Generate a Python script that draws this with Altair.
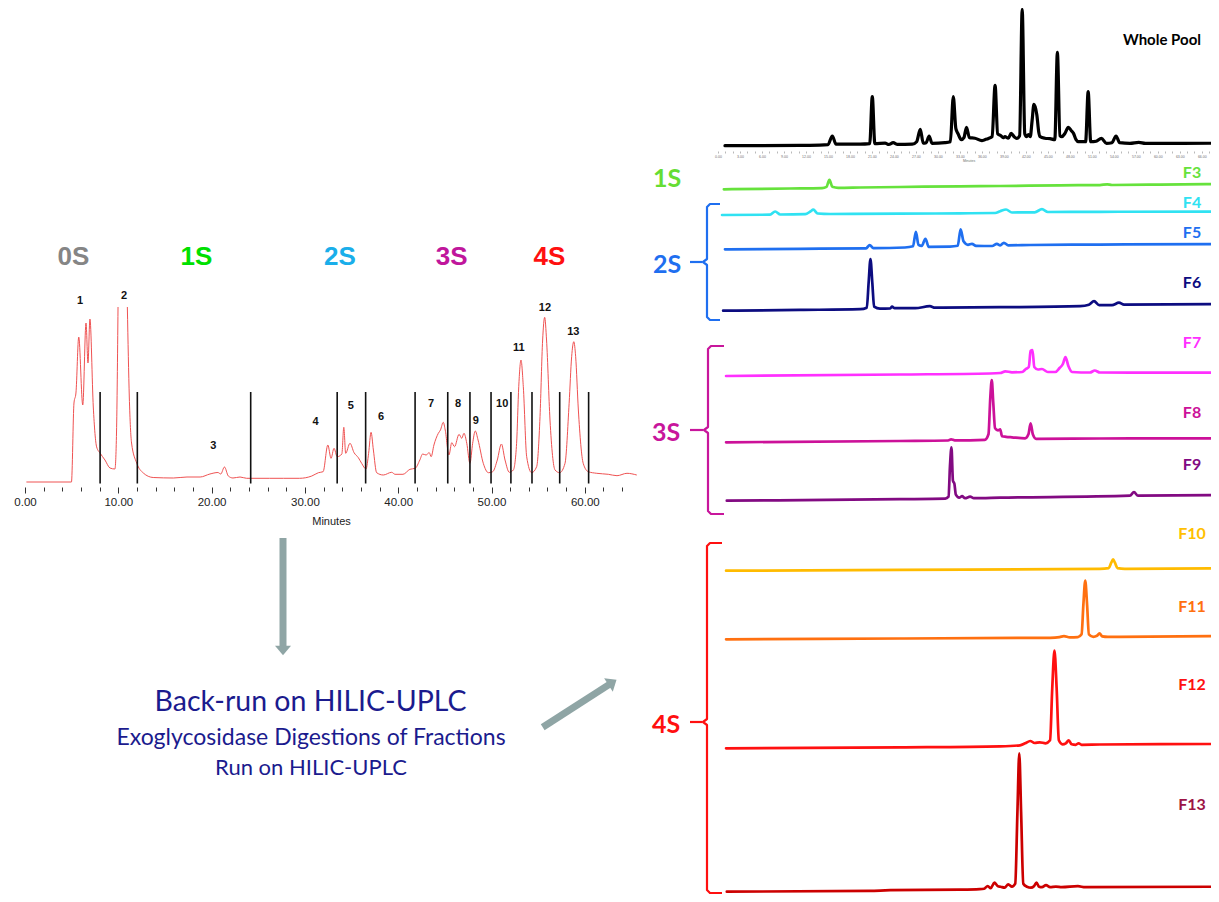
import altair as alt
import pandas as pd

W, H, M = 1203, 886, 8  # canvas size (page minus 8px body margin)


def P(v):
    """page pixel -> canvas pixel"""
    return v - M


# ======================= DATA =======================
# Left: fractionation chromatogram (minutes, intensity); None = off-scale top of peak 2
main_trace = [
    (0.15, 0), (4.98, 0), (5.25, 79), (5.46, 89), (5.76, 145), (6.19, 77), (6.54, 159), (6.75, 119),
    (6.96, 163), (7.32, 75), (7.68, 35), (8.04, 29), (8.57, 22), (9.11, 14), (9.64, 13), (9.81, 50),
    (9.97, 175), (10.47, None), (10.97, 175), (11.18, 85), (11.42, 39), (11.97, 19), (12.68, 9),
    (13.74, 4.5), (15.9, 4), (17.36, 5), (18.77, 5), (19.82, 8), (20.68, 9.5), (20.98, 8), (21.38, 15),
    (21.79, 6), (22.29, 4), (23.05, 5), (23.75, 3.7), (26.22, 3.7), (27.69, 3.7), (29.44, 3.7),
    (30.74, 6), (31.45, 9.3), (31.95, 10.3), (32.46, 37), (32.8, 23.7), (33.12, 33.7), (33.46, 25.3),
    (33.96, 28), (34.17, 54.7), (34.37, 28.7), (34.83, 38.7), (35.27, 29.3), (35.73, 24.3),
    (36.08, 18.7), (36.55, 13), (36.83, 28.7), (37.09, 49.7), (37.34, 32), (37.69, 9.3), (38.4, 7),
    (39.3, 9.7), (39.66, 7.7), (40.51, 7.7), (41.26, 12.7), (41.82, 13.7), (42.32, 22), (42.62, 28),
    (42.98, 27), (43.33, 29.3), (43.53, 25.3), (43.83, 37), (44.3, 48.7), (44.53, 52), (44.83, 59.7),
    (45.04, 52), (45.44, 27), (45.74, 39.3), (46.04, 35.3), (46.52, 47.7), (46.81, 43.7), (47.05, 48.7),
    (47.35, 38.7), (47.69, 18.7), (47.98, 38.7), (48.26, 51), (48.56, 42), (49.12, 18.7), (49.67, 9.3),
    (50.13, 10.3), (50.62, 22), (51.06, 38), (51.45, 22), (51.91, 9.7), (52.34, 12), (52.69, 38.7),
    (52.92, 95.3), (53.16, 122), (53.41, 95.3), (53.77, 25.3), (54.3, 9.3), (54.84, 15.3), (55.2, 65.3),
    (55.48, 142), (55.7, 164.7), (55.9, 142), (56.27, 62), (56.81, 12), (57.31, 9.3), (57.88, 18.7),
    (58.32, 78.7), (58.59, 125.3), (58.82, 140.3), (59.02, 125.3), (59.31, 72), (59.83, 18.7),
    (60.37, 10.3), (61.28, 8.7), (62.52, 7.7), (63.45, 6.3), (64.52, 8.7), (65.57, 7),
]
cut_minutes = [8.05, 12.04, 24.19, 33.46, 36.51, 41.81, 45.31, 47.69, 49.95, 52.08, 54.34, 57.31, 60.41]
peak_ids = ["1", "2", "3", "4", "5", "6", "7", "8", "9", "10", "11", "12", "13"]
peak_label_min = [5.9, 10.62, 20.18, 31.15, 34.91, 38.16, 43.53, 46.41, 48.31, 51.15, 52.92, 55.73, 58.77]
peak_label_int = [181, 186, 36, 60, 76, 65, 78, 78, 61, 78, 134, 174, 150]
group_names = ["0S", "1S", "2S", "3S", "4S"]
group_min = [5.18, 18.37, 33.76, 45.74, 56.21]

# Right: back-run traces (minutes, intensity above start baseline)
fractions = ["Whole Pool", "F3", "F4", "F5", "F6", "F7", "F8", "F9", "F10", "F11", "F12", "F13"]
traces = {
    "Whole Pool": [
        (0.95, 0), (11.2, 0.3), (13.9, 0.5), (15.0, 1), (15.6, 9.7), (16.1, 1.5), (19.4, 1.5), (20.7, 2),
        (21.05, 49), (21.4, 2), (22.8, 2.5), (23.3, 1.2), (23.9, 3), (24.5, 1.3), (26.5, 1.5), (27.1, 4),
        (27.6, 16.3), (28.0, 2.5), (28.4, 3), (28.8, 9.7), (29.2, 2.3), (30.95, 3), (31.7, 4), (32.1, 49),
        (32.45, 17), (32.75, 12), (33.2, 6), (33.55, 8), (33.9, 18.3), (34.3, 8), (35.05, 7.5), (36.0, 5),
        (36.4, 6), (36.9, 7.3), (37.4, 9), (37.8, 60.3), (38.15, 12), (38.6, 10), (38.9, 8), (39.15, 9),
        (39.6, 7.5), (40.0, 12.3), (40.4, 9), (40.75, 7.3), (41.15, 10), (41.5, 136.3), (41.85, 12),
        (42.1, 9), (42.35, 11), (42.6, 9), (42.85, 25), (43.1, 41.3), (43.5, 30.7), (43.75, 14),
        (43.95, 9), (44.6, 7.5), (45.3, 7), (45.95, 6), (46.3, 93.3), (46.65, 10), (46.9, 9), (47.3, 12),
        (47.8, 18.3), (48.2, 15), (48.5, 12.3), (48.85, 6), (49.15, 4), (50.15, 4), (50.5, 54),
        (50.85, 4), (51.6, 4.5), (52.3, 7.3), (53.0, 2.3), (53.75, 3), (54.3, 9.7), (54.8, 3),
        (56.2, 2.3), (57.4, 3.3), (58.3, 2.3), (63.0, 2.3), (68.35, 2.5),
    ],
    "F3": [
        (0.8, 0), (9.8, 0.8), (14.2, 1.2), (14.8, 2.5), (15.2, 9.5), (15.6, 2.5), (16.4, 1.5), (19.4, 1.8),
        (24.8, 2.3), (33.0, 3), (38.5, 3.3), (46.7, 4), (52.1, 4.2), (53.1, 5), (53.75, 4.3), (60.3, 4.7),
        (68.35, 5.3),
    ],
    "F4": [
        (0.55, 0), (7.1, 0.3), (7.8, 3.5), (8.5, 0.5), (11.9, 0.8), (12.6, 3.5), (13.0, 5.3), (13.6, 1.5),
        (15.3, 1), (24.8, 1.3), (33.0, 1.7), (37.8, 2), (38.5, 3.8), (39.3, 5.5), (40.1, 2.5), (43.2, 2.7),
        (44.2, 5.8), (45.0, 3), (52.1, 3.2), (68.35, 3.3),
    ],
    "F5": [
        (0.95, 0), (11.2, 0.5), (20.2, 1), (20.7, 4.3), (21.2, 1.2), (25.5, 1.8), (26.6, 3), (27.0, 17.5),
        (27.35, 4.5), (27.8, 3.5), (28.3, 10.5), (28.75, 2.5), (31.65, 2.7), (32.7, 3.5), (33.1, 20),
        (33.5, 8), (34.1, 4.5), (34.65, 5.5), (35.2, 3.5), (37.4, 3.3), (38.05, 5.5), (38.5, 4),
        (39.0, 6.5), (39.6, 4), (42.6, 4.3), (52.1, 4.7), (68.35, 5.3),
    ],
    "F6": [
        (0.7, 0), (11.2, 0.8), (19.4, 1.5), (20.3, 3), (20.55, 28), (20.8, 51.5), (21.05, 28), (21.3, 4),
        (22.1, 2), (23.5, 2.3), (23.75, 4), (24.1, 2.5), (26.9, 2.5), (28.9, 4.5), (29.6, 3), (38.5, 3.5),
        (49.4, 4.5), (50.6, 6), (51.3, 9.5), (52.0, 5.5), (53.75, 5.5), (54.7, 8), (55.4, 6), (68.35, 6.7),
    ],
    "F7": [
        (1.1, 0), (24.8, 1.5), (37.1, 2.5), (38.5, 3), (39.2, 4.7), (40.1, 3.7), (41.5, 4), (42.0, 7),
        (42.4, 9), (42.65, 25), (42.9, 26), (43.15, 9), (43.65, 6.5), (44.2, 7), (45.0, 4), (46.0, 4),
        (46.6, 8), (47.05, 12), (47.4, 19), (47.8, 10), (48.3, 4), (50.75, 3.5), (51.4, 5.5), (52.1, 3.5),
        (68.35, 3.3),
    ],
    "F8": [
        (1.1, 0), (24.8, 1.3), (31.4, 1.8), (31.8, 3), (32.3, 2), (36.4, 2.5), (36.9, 8), (37.15, 45),
        (37.35, 62.3), (37.55, 40), (37.8, 14), (38.2, 12), (38.5, 13), (38.75, 6), (39.3, 5.5), (40.1, 5),
        (41.9, 4), (42.35, 8), (42.65, 19), (42.95, 8), (43.4, 3.5), (52.1, 3.8), (68.35, 4),
    ],
    "F9": [
        (1.2, 0), (24.8, 1.5), (31.0, 2), (31.45, 4), (31.65, 35), (31.85, 53.3), (32.05, 20), (32.25, 17),
        (32.45, 6), (32.9, 3), (33.3, 4.5), (33.7, 2.5), (34.4, 4), (34.9, 2.5), (38.5, 3), (56.2, 5),
        (56.75, 8.5), (57.3, 5), (68.35, 5.7),
    ],
    "F10": [
        (1.1, 0), (24.8, 0.8), (52.1, 1.8), (53.3, 2.5), (53.65, 8), (53.9, 11.3), (54.15, 8), (54.5, 2.5),
        (55.5, 1.8), (68.35, 2.4),
    ],
    "F11": [
        (1.1, 0), (24.8, 0.8), (45.3, 1.5), (46.6, 2.2), (47.2, 3.2), (48.0, 2), (49.1, 2.2), (49.6, 5),
        (49.85, 35), (50.1, 58.7), (50.35, 35), (50.6, 5), (51.2, 2.5), (51.7, 3.5), (52.05, 6), (52.4, 3),
        (53.2, 2.5), (68.35, 3.3),
    ],
    "F12": [
        (1.1, 0), (24.8, 1), (38.5, 2), (41.2, 3), (41.9, 5), (42.6, 7.3), (43.2, 5.3), (43.9, 6), (44.7, 5),
        (45.3, 8), (45.6, 60), (45.9, 97.6), (46.2, 60), (46.5, 8), (47.0, 4), (47.45, 5), (47.85, 8),
        (48.25, 4), (48.8, 3.5), (49.2, 5), (49.6, 3.5), (52.1, 3.8), (68.35, 4.3),
    ],
    "F13": [
        (1.2, 0), (20.7, 0.8), (23.5, 1.5), (33.0, 2), (35.7, 2.5), (36.3, 3), (36.8, 5.7), (37.2, 3.5),
        (37.7, 9), (38.2, 5.5), (38.55, 5), (39.1, 4), (39.6, 7.3), (40.1, 5), (40.55, 8), (40.85, 80),
        (41.1, 138.4), (41.35, 80), (41.65, 8), (42.15, 5), (42.7, 4), (43.1, 5.5), (43.45, 9), (43.8, 5),
        (44.2, 4.5), (44.75, 6.5), (45.3, 4.5), (46.1, 5), (46.9, 4.5), (49.1, 5.5), (50.1, 4.5),
        (68.35, 5),
    ],
}
side_groups = ["1S", "2S", "3S", "4S"]
caption_lines = ["Back-run on HILIC-UPLC", "Exoglycosidase Digestions of Fractions", "Run on HILIC-UPLC"]

# ======================= STYLE =======================
MAIN_COLOR = "#ef5252"
group_colors = ["#858585", "#00e000", "#1aaeea", "#c0169c", "#ff1010"]
frac_colors = {
    "Whole Pool": "#000000", "F3": "#66e23c", "F4": "#30e2f2", "F5": "#1f6ff0", "F6": "#0c0c80",
    "F7": "#ff30ff", "F8": "#cc1199", "F9": "#820a82", "F10": "#ffbb00", "F11": "#ff7010",
    "F12": "#ff1010", "F13": "#cc0000",
}
frac_label_colors = dict(frac_colors, **{"F10": "#ffc000", "F13": "#9c1446"})
side_colors = {"1S": "#66dd33", "2S": "#1f6ff0", "3S": "#c8169c", "4S": "#ff1010"}
ARROW_C = "#8fa5a5"
CAPTION_C = "#1b1b8e"
SANS = "Liberation Sans"
CAL = "Lato"

# ======================= LAYOUT (page pixels) =======================
LEFT_X0, LEFT_PX_PER_MIN, LEFT_MAX = 25, 9.33, 65.6
LEFT_BASE, LEFT_TOP, LEFT_TOPVAL = 482, 307, 175
LEFT_AXIS_Y = 487
CUT_LO, CUT_HI = -1.5, 90
GROUP_LEVEL = 225
RIGHT_X0, RIGHT_PX_PER_MIN, RIGHT_MAX = 718, 7.33, 68.35
WP_AXIS_Y = 151
baseline = {
    "Whole Pool": 145.7, "F3": 189.3, "F4": 215, "F5": 249.3, "F6": 310.7, "F7": 376, "F8": 442.3,
    "F9": 500.7, "F10": 570.7, "F11": 639.3, "F12": 748.3, "F13": 891.7,
}
label_pos = {
    "Whole Pool": (1162, 40), "F3": (1192, 172.5), "F4": (1192, 203), "F5": (1192, 233), "F6": (1192, 283),
    "F7": (1192, 343), "F8": (1192, 413), "F9": (1192, 465), "F10": (1192, 534), "F11": (1192, 607),
    "F12": (1192, 685), "F13": (1192, 805),
}
side_pos = {"1S": (667, 179), "2S": (667, 265), "3S": (666, 433), "4S": (666, 725)}
brackets = [  # (group, x, top, mid, bottom, serif_end, dash_start)
    ("2S", 707, 204, 262, 320, 720, 690),
    ("3S", 708, 346, 430, 514, 724, 690),
    ("4S", 707, 543, 722, 893, 722, 690),
]
caption_pos = [(310.5, 701.5, 28.5), (311, 738, 23), (311, 767.5, 22)]
V_ARROW = dict(x=283, y0=538, y1=648, head=(283, 650.5))
D_ARROW = dict(x0=542.7, y0=727.3, x1=612.5, y1=682.4, head=(612.5, 682.4), angle=237.3)
HEAD_PATH = "M -1 -0.6 L 1 -0.6 L 0 0.6 Z"

# ======================= BUILD =======================
layers = []
one = pd.DataFrame({"a": [0]})

LX = alt.Scale(domain=[0, LEFT_MAX], range=[P(LEFT_X0), P(LEFT_X0 + LEFT_MAX * LEFT_PX_PER_MIN)],
               nice=False, zero=False)
LY = alt.Scale(domain=[0, LEFT_TOPVAL], range=[P(LEFT_BASE), P(LEFT_TOP)], nice=False, zero=False)

left_axis = alt.Axis(
    orient="bottom", offset=P(LEFT_AXIS_Y) - H, values=list(range(0, 66, 2)),
    labelExpr="datum.value % 10 == 0 ? format(datum.value, '.2f') : ''",
    tickSize={"condition": {"test": "datum.value % 10 === 0", "value": 6}, "value": 4},
    tickColor="#333333", tickWidth=1, domain=False, grid=False,
    labelFont=SANS, labelFontSize=11.5, labelColor="#222222", labelPadding=3,
    labelOverlap=False, labelFlush=False,
    title="Minutes", titleFont=SANS, titleFontSize=11, titleFontWeight="normal",
    titleColor="#222222", titlePadding=8,
)

# main trace, split into segments at the off-scale gap
rows, seg = [], 0
for t, h in main_trace:
    if h is None:
        seg += 1
        continue
    rows.append({"t": t, "h": h, "seg": seg})
main_df = pd.DataFrame(rows)
layers.append(
    alt.Chart(main_df).mark_line(color=MAIN_COLOR, strokeWidth=1, interpolate="monotone").encode(
        x=alt.X("t:Q", scale=LX, axis=left_axis),
        y=alt.Y("h:Q", scale=LY, axis=None),
        detail="seg:N",
    )
)

cut_df = pd.DataFrame({"t": cut_minutes, "lo": CUT_LO, "hi": CUT_HI})
layers.append(
    alt.Chart(cut_df).mark_rule(color="#111111", strokeWidth=1.6).encode(
        x=alt.X("t:Q", scale=LX, axis=None),
        y=alt.Y("lo:Q", scale=LY, axis=None),
        y2="hi:Q",
    )
)

pk_df = pd.DataFrame({"id": peak_ids, "t": peak_label_min, "h": peak_label_int})
layers.append(
    alt.Chart(pk_df).mark_text(font=SANS, fontSize=11, fontWeight="bold", color="#111111",
                               align="center", baseline="middle").encode(
        x=alt.X("t:Q", scale=LX, axis=None),
        y=alt.Y("h:Q", scale=LY, axis=None),
        text="id:N",
    )
)

grp_df = pd.DataFrame({"g": group_names, "t": group_min, "h": GROUP_LEVEL, "c": group_colors})
layers.append(
    alt.Chart(grp_df).mark_text(font=SANS, fontSize=26, fontWeight="bold",
                                align="center", baseline="middle").encode(
        x=alt.X("t:Q", scale=LX, axis=None),
        y=alt.Y("h:Q", scale=LY, axis=None),
        color=alt.Color("c:N", scale=None),
        text="g:N",
    )
)

# right-hand traces
RX = alt.Scale(domain=[0, RIGHT_MAX],
               range=[P(RIGHT_X0), P(RIGHT_X0 + RIGHT_MAX * RIGHT_PX_PER_MIN)], nice=False, zero=False)
wp_axis = alt.Axis(
    orient="bottom", offset=P(WP_AXIS_Y) - H, values=list(range(0, 69)),
    labelExpr="datum.value % 3 == 0 ? format(datum.value, '.2f') : ''",
    tickSize=2, tickColor="#8a8a8a", tickWidth=0.6, domain=False, grid=False,
    labelFont=SANS, labelFontSize=3.5, labelColor="#707070", labelPadding=1,
    labelOverlap=False, labelFlush=False,
    title="Minutes", titleFont=SANS, titleFontSize=3.5, titleFontWeight="normal",
    titleColor="#707070", titlePadding=1,
)
for name in fractions:
    df = pd.DataFrame(traces[name], columns=["t", "h"])
    b = P(baseline[name])
    ys = alt.Scale(domain=[0, 150], range=[b, b - 150], nice=False, zero=False)
    layers.append(
        alt.Chart(df).mark_line(color=frac_colors[name], strokeWidth=3.2 if name == "Whole Pool" else 2.7,
                                interpolate="monotone", strokeJoin="round", strokeCap="round").encode(
            x=alt.X("t:Q", scale=RX, axis=wp_axis if name == "Whole Pool" else None),
            y=alt.Y("h:Q", scale=ys, axis=None),
        )
    )

# right-hand labels
lab_df = pd.DataFrame({
    "label": fractions,
    "px": [P(label_pos[n][0]) for n in fractions],
    "py": [P(label_pos[n][1]) for n in fractions],
    "c": [frac_label_colors[n] for n in fractions],
    "fs": [15 if n == "Whole Pool" else 16 for n in fractions],
})
layers.append(
    alt.Chart(lab_df).mark_text(font=CAL, fontWeight="bold", align="center", baseline="middle").encode(
        x=alt.X("px:Q", scale=None, axis=None),
        y=alt.Y("py:Q", scale=None, axis=None),
        color=alt.Color("c:N", scale=None),
        size=alt.Size("fs:Q", scale=None),
        text="label:N",
    )
)
side_df = pd.DataFrame({
    "label": side_groups,
    "px": [P(side_pos[g][0]) for g in side_groups],
    "py": [P(side_pos[g][1]) for g in side_groups],
    "c": [side_colors[g] for g in side_groups],
})
layers.append(
    alt.Chart(side_df).mark_text(font=CAL, fontWeight="bold", fontSize=25, align="center",
                                 baseline="middle").encode(
        x=alt.X("px:Q", scale=None, axis=None),
        y=alt.Y("py:Q", scale=None, axis=None),
        color=alt.Color("c:N", scale=None),
        text="label:N",
    )
)

# brackets
for g, x, top, mid, bot, serif, dash in brackets:
    pts = [(serif, top), (x + 3, top), (x, top + 3), (x, mid - 3), (x - 4, mid), (x, mid + 3),
           (x, bot - 3), (x + 3, bot), (serif, bot)]
    rows = [{"x": P(px), "y": P(py), "o": i, "part": 0} for i, (px, py) in enumerate(pts)]
    rows += [{"x": P(dash), "y": P(mid), "o": 0, "part": 1}, {"x": P(x - 5), "y": P(mid), "o": 1, "part": 1}]
    layers.append(
        alt.Chart(pd.DataFrame(rows)).mark_line(color=side_colors[g], strokeWidth=2.2,
                                                strokeJoin="round").encode(
            x=alt.X("x:Q", scale=None, axis=None),
            y=alt.Y("y:Q", scale=None, axis=None),
            order="o:Q",
            detail="part:N",
        )
    )

# arrows
layers.append(
    alt.Chart(one).mark_rule(color=ARROW_C, strokeWidth=7).encode(
        x=alt.value(P(V_ARROW["x"])), y=alt.value(P(V_ARROW["y0"])), y2=alt.value(P(V_ARROW["y1"])))
)
layers.append(
    alt.Chart(one).mark_point(shape=HEAD_PATH, filled=True, size=256, color=ARROW_C, opacity=1,
                              strokeWidth=0).encode(
        x=alt.value(P(V_ARROW["head"][0])), y=alt.value(P(V_ARROW["head"][1])))
)
layers.append(
    alt.Chart(one).mark_rule(color=ARROW_C, strokeWidth=7).encode(
        x=alt.value(P(D_ARROW["x0"])), y=alt.value(P(D_ARROW["y0"])),
        x2=alt.value(P(D_ARROW["x1"])), y2=alt.value(P(D_ARROW["y1"])))
)
layers.append(
    alt.Chart(one).mark_point(shape=HEAD_PATH, filled=True, size=256, color=ARROW_C, opacity=1,
                              strokeWidth=0, angle=D_ARROW["angle"]).encode(
        x=alt.value(P(D_ARROW["head"][0])), y=alt.value(P(D_ARROW["head"][1])))
)

# caption
for text, (cx, cy, fs) in zip(caption_lines, caption_pos):
    layers.append(
        alt.Chart(pd.DataFrame({"s": [text]})).mark_text(font=CAL, fontSize=fs, color=CAPTION_C,
                                                         align="center", baseline="middle").encode(
            x=alt.value(P(cx)), y=alt.value(P(cy)), text="s:N")
    )

chart = (
    alt.layer(*layers)
    .resolve_scale(x="independent", y="independent")
    .properties(width=W, height=H, padding=0, autosize=alt.AutoSizeParams(type="none"),
                background="white")
    .configure_view(stroke=None)
)
chart.save("out.html", embed_options={"renderer": "svg", "actions": False})
